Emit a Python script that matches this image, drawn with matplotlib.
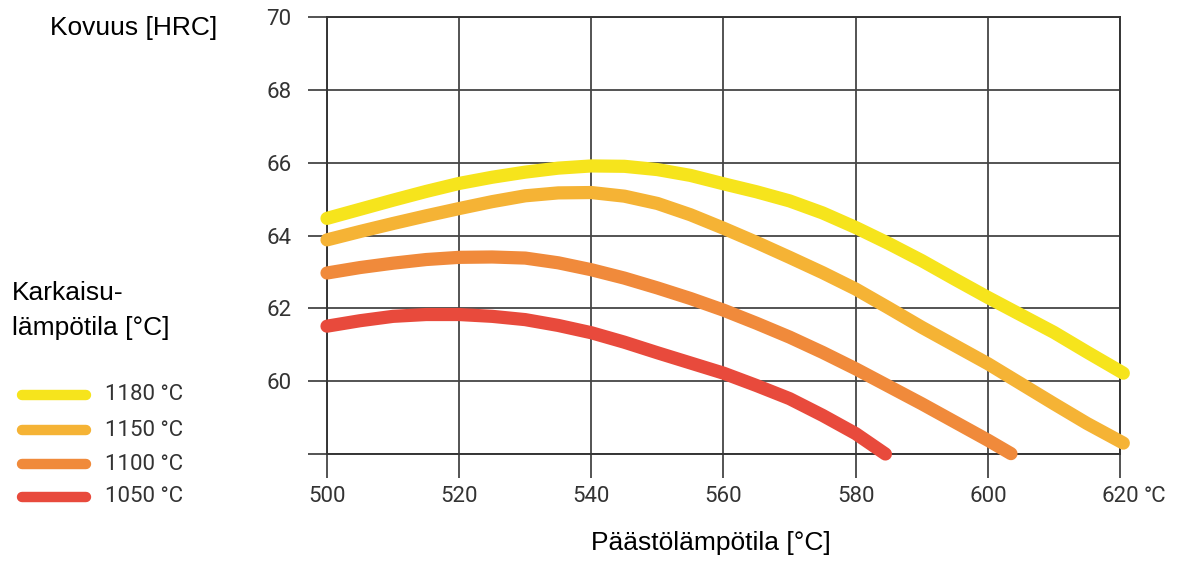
import matplotlib
matplotlib.use("Agg")
import matplotlib.pyplot as plt
from matplotlib.lines import Line2D

# --- data --------------------------------------------------------------
temps_1180 = [500, 505, 510, 515, 520, 525, 530, 535, 540, 545, 550, 555, 560,
              565, 570, 575, 580, 585, 590, 595, 600, 605, 610, 615, 620.5]
hrc_1180 = [64.47, 64.72, 64.97, 65.21, 65.43, 65.60, 65.74, 65.85, 65.91, 65.90, 65.81, 65.65, 65.42,
            65.20, 64.95, 64.62, 64.22, 63.78, 63.31, 62.80, 62.30, 61.82, 61.34, 60.80, 60.22]

temps_1150 = [500, 505, 510, 515, 520, 525, 530, 535, 540, 545, 550, 555, 560,
              565, 570, 575, 580, 585, 590, 595, 600, 605, 610, 615, 620.5]
hrc_1150 = [63.88, 64.11, 64.33, 64.54, 64.74, 64.93, 65.09, 65.17, 65.18, 65.08, 64.88, 64.57, 64.20,
            63.81, 63.40, 62.98, 62.53, 62.01, 61.48, 60.98, 60.48, 59.93, 59.38, 58.84, 58.30]

temps_1100 = [500, 505, 510, 515, 520, 525, 530, 535, 540, 545, 550, 555, 560,
              565, 570, 575, 580, 585, 590, 595, 600, 603.5]
hrc_1100 = [62.97, 63.12, 63.24, 63.34, 63.40, 63.41, 63.38, 63.25, 63.06, 62.83, 62.56, 62.27, 61.95,
            61.59, 61.21, 60.79, 60.34, 59.86, 59.38, 58.88, 58.38, 58.01]

temps_1050 = [500, 505, 510, 515, 520, 525, 530, 535, 540, 545, 550, 555, 560,
              565, 570, 575, 580, 584.5]
hrc_1050 = [61.51, 61.66, 61.78, 61.83, 61.83, 61.78, 61.69, 61.53, 61.33, 61.07, 60.78, 60.50, 60.22,
            59.88, 59.52, 59.06, 58.56, 58.00]

series_labels = ["1180 °C", "1150 °C", "1100 °C", "1050 °C"]
series_colors = ["#F6E41C", "#F5B335", "#F08A3B", "#E84A3C"]

x_ticks = [500, 520, 540, 560, 580, 600, 620]
y_ticks = [58, 60, 62, 64, 66, 68, 70]
y_tick_labels = ["", "60", "62", "64", "66", "68", "70"]

num_font = "Roboto"
sans = "Liberation Sans"
ink = "#333333"

W, H = 1179, 563
fig = plt.figure(figsize=(W / 100, H / 100), dpi=100)
ax = fig.add_axes([327 / W, 1 - 454 / H, (1120 - 327) / W, (454 - 17) / H])

series = [
    (temps_1180, hrc_1180),
    (temps_1150, hrc_1150),
    (temps_1100, hrc_1100),
    (temps_1050, hrc_1050),
]
for (t, h), c in zip(series, series_colors):
    ax.plot(t, h, color=c, lw=9.5, solid_capstyle="round", solid_joinstyle="round",
            zorder=3, clip_on=False)

ax.set_xlim(500, 620)
ax.set_ylim(58, 70)
ax.set_xticks(x_ticks)
ax.set_yticks(y_ticks)
ax.set_yticklabels(y_tick_labels)
ax.grid(True, color="#454545", lw=1.3, zorder=1)
for s in ax.spines.values():
    s.set_color("#353535")
    s.set_linewidth(1.4)
ax.tick_params(axis="y", direction="out", length=13.5, width=1.3, color="#454545",
               pad=12, labelsize=16, labelcolor=ink)
ax.tick_params(axis="x", direction="out", length=17, width=1.3, color="#454545",
               pad=6, labelsize=16, labelcolor=ink)
for lab in ax.get_xticklabels() + ax.get_yticklabels():
    lab.set_fontfamily(num_font)

# unit after last x tick
fig.text(1144 / W, 1 - 496 / H, "°C", fontsize=16, family=num_font, color=ink,
         ha="left", va="center")

# axis titles
fig.text(50 / W, 1 - 35 / H, "Kovuus [HRC]", fontsize=19, family=sans, ha="left", va="baseline")
fig.text(12 / W, 1 - 300 / H, "Karkaisu-", fontsize=19, family=sans, ha="left", va="baseline")
fig.text(12 / W, 1 - 335 / H, "lämpötila [°C]", fontsize=19, family=sans, ha="left", va="baseline")
fig.text(711 / W, 1 - 550 / H, "Päästölämpötila [°C]", fontsize=19, family=sans,
         ha="center", va="baseline")

# legend drawn by hand on the left
leg_y = [395, 430, 464, 497]
for y, lab, c in zip(leg_y, series_labels, series_colors):
    fig.add_artist(Line2D([22 / W, 86 / W], [1 - y / H, 1 - y / H], color=c, lw=7.5,
                          solid_capstyle="round"))
    fig.text(105 / W, 1 - y / H, lab, fontsize=16, family=num_font, color=ink,
             ha="left", va="center")

fig.savefig("out.png", dpi=100)
